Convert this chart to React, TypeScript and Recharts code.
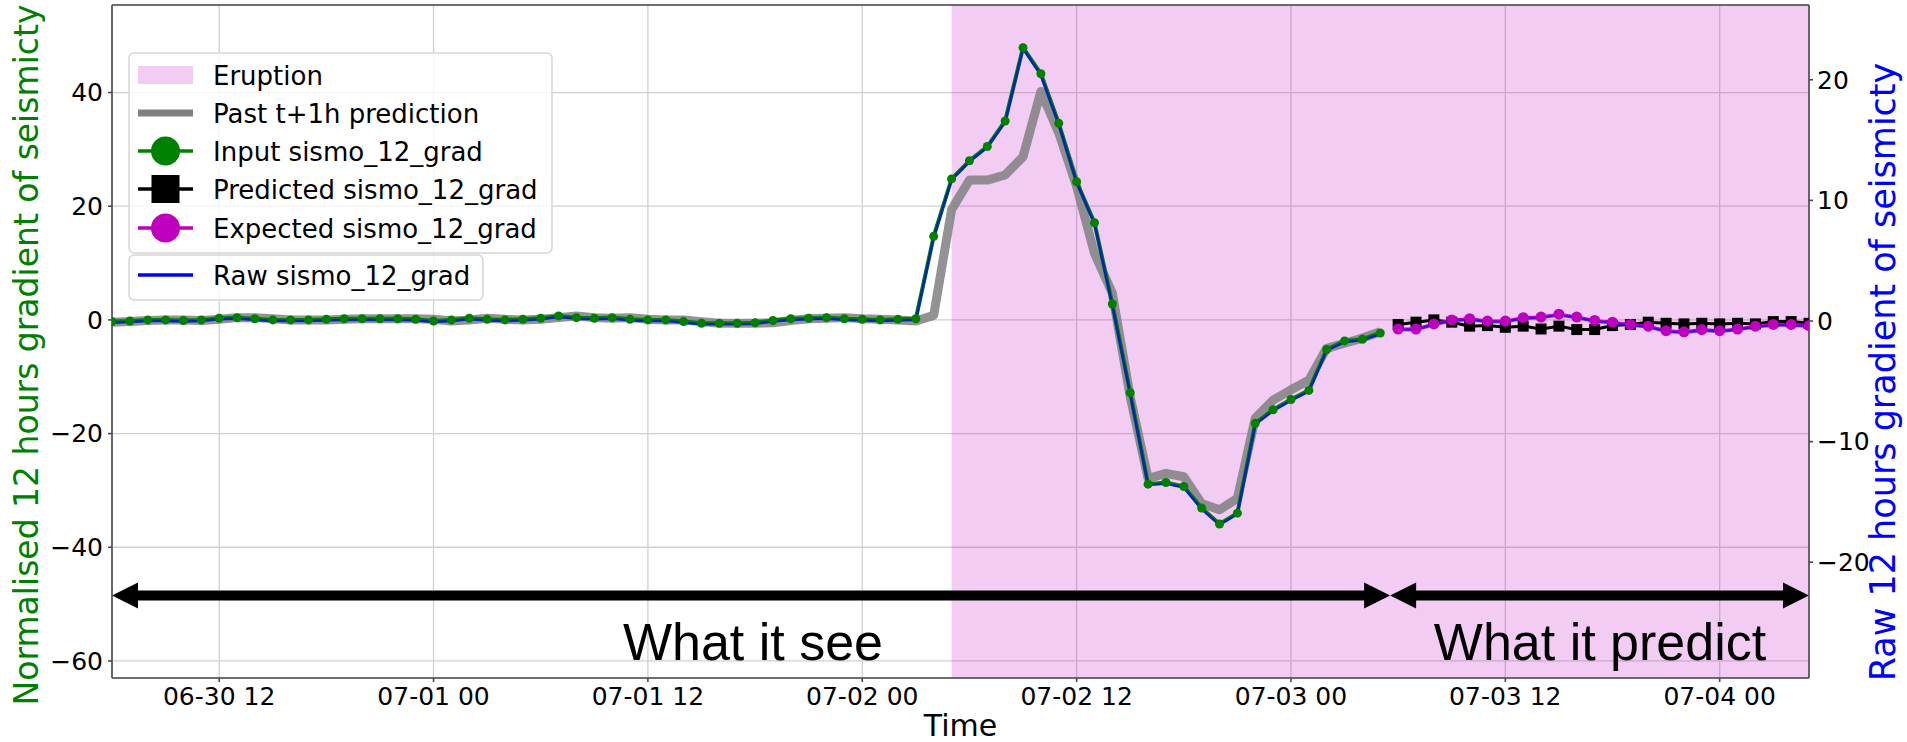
import {
  ComposedChart,
  Line,
  XAxis,
  YAxis,
  CartesianGrid,
  ReferenceArea,
  ReferenceLine,
} from "recharts";

/* ------------------------------------------------------------------ */
/*  Data (x = hours since 06-30 00:00, hourly samples)                  */
/* ------------------------------------------------------------------ */

const INPUT_START = 6; // 06-30 06:00
const PRED_START = 78; // 07-03 06:00
const ERUPTION_START = 53; // 07-02 05:00
const X_MIN = 6;
const X_MAX = 101;

const X_TICKS = [12, 24, 36, 48, 60, 72, 84, 96];
const X_TICK_LABELS = [
  "06-30 12",
  "07-01 00",
  "07-01 12",
  "07-02 00",
  "07-02 12",
  "07-03 00",
  "07-03 12",
  "07-04 00",
];

const LEFT_TICKS = [-60, -40, -20, 0, 20, 40];
const RIGHT_TICKS = [-20, -10, 0, 10, 20];
const LEFT_DOMAIN: [number, number] = [-63, 55.4];
const RIGHT_DOMAIN: [number, number] = [-29.6, 26.2];

// normalised input window (left axis)
const INPUT = [
  -0.3, -0.2, 0.0, 0.0, -0.1, 0.0,
  0.3, 0.4, 0.2, 0.0, 0.0, 0.0,
  0.1, 0.2, 0.2, 0.2, 0.2, 0.1,
  -0.2, 0.0, 0.3, 0.1, 0.0, 0.1,
  0.3, 0.7, 0.4, 0.3, 0.4, 0.1,
  0.0, 0.0, -0.3, -0.6, -0.6, -0.6,
  -0.5, -0.1, 0.2, 0.3, 0.4, 0.2,
  0.1, 0.0, 0.1, 0.2,
  14.7, 24.8, 28.0, 30.5, 35.0, 47.9, 43.3, 34.6, 24.3, 17.1, 2.8,
  -12.8, -28.9, -28.6, -29.3, -33.1, -35.9, -34.0, -18.2, -15.8, -14.0,
  -12.4, -5.2, -3.7, -3.4, -2.3,
];

// past t+1h predictions over the input window (left axis)
const PAST = [
  -0.4, -0.3, -0.1, 0.0, 0.0, -0.1,
  0.1, 0.4, 0.4, 0.2, 0.0, 0.0,
  0.0, 0.1, 0.2, 0.2, 0.2, 0.2,
  0.1, -0.2, 0.0, 0.3, 0.1, 0.0,
  0.1, 0.4, 0.7, 0.4, 0.3, 0.4,
  0.1, 0.0, 0.0, -0.3, -0.6, -0.6,
  -0.6, -0.5, -0.1, 0.2, 0.3, 0.4,
  0.2, 0.1, 0.0, -0.2,
  0.8, 19.4, 24.6, 24.6, 25.5, 28.7, 40.2, 32.9, 23.5, 11.7, 4.7,
  -13.5, -27.9, -27.0, -27.6, -32.3, -33.4, -31.4, -17.3, -14.1, -12.3,
  -10.6, -5.0, -4.1, -3.2, -2.1,
];

// raw gradient over the input window (right axis)
const RAW = [
  -0.14, -0.09, 0.0, 0.0, -0.05, 0.0,
  0.14, 0.19, 0.09, 0.0, 0.0, 0.0,
  0.05, 0.09, 0.09, 0.09, 0.09, 0.05,
  -0.09, 0.0, 0.14, 0.05, 0.0, 0.05,
  0.14, 0.33, 0.19, 0.14, 0.19, 0.05,
  0.0, 0.0, -0.14, -0.28, -0.28, -0.28,
  -0.24, -0.05, 0.09, 0.14, 0.19, 0.09,
  0.05, 0.0, 0.05, 0.09,
  6.93, 11.7, 13.2, 14.4, 16.5, 22.6, 20.4, 16.3, 11.5, 8.07, 1.32,
  -6.04, -13.6, -13.5, -13.8, -15.6, -16.9, -16.0, -8.58, -7.45, -6.6,
  -5.85, -2.45, -1.75, -1.6, -1.08,
];

// 24h forecast window (left axis)
const PREDICTED = [
  -0.8, -0.4, 0.0, -0.4, -1.1, -1.0, -1.3, -1.1, -1.6, -1.1, -1.7, -1.7,
  -1.0, -0.8, -0.4, -0.6, -0.7, -0.6, -0.7, -0.6, -0.7, -0.3, -0.3, -0.6,
];
const EXPECTED = [
  -1.6, -1.6, -0.7, 0.0, 0.2, -0.2, -0.2, 0.4, 0.5, 1.0, 0.5, -0.1,
  -0.4, -0.8, -1.1, -1.9, -2.1, -1.7, -1.9, -1.6, -1.1, -0.8, -0.8, -1.0,
];
// raw gradient over the forecast window (right axis)
const RAW_PRED = [
  -0.75, -0.75, -0.33, 0.0, 0.09, -0.09, -0.09, 0.19, 0.24, 0.47, 0.24, -0.05,
  -0.19, -0.38, -0.52, -0.9, -0.99, -0.8, -0.9, -0.75, -0.52, -0.38, -0.38, -0.47,
];

const ARROW_Y = -48.5;
const SPLIT_X = 77.55;

type Row = {
  t: number;
  input?: number;
  past?: number;
  raw?: number;
  pred?: number;
  expected?: number;
  rawPred?: number;
};

const rows: Row[] = [];
for (let t = X_MIN; t <= X_MAX; t++) {
  const row: Row = { t };
  const i = t - INPUT_START;
  if (i >= 0 && i < INPUT.length) {
    row.input = INPUT[i];
    row.past = PAST[i];
    row.raw = RAW[i];
  }
  const j = t - PRED_START;
  if (j >= 0 && j < PREDICTED.length) {
    row.pred = PREDICTED[j];
    row.expected = EXPECTED[j];
    row.rawPred = RAW_PRED[j];
  }
  rows.push(row);
}

/* ------------------------------------------------------------------ */
/*  Helpers                                                             */
/* ------------------------------------------------------------------ */

const FONT = "'DejaVu Sans', sans-serif";
const FRAME = "#4a4a4a";
const ERUPTION_FILL = "#bf00bf";

const minus = (v: number) => (v < 0 ? `\u2212${Math.abs(v)}` : `${v}`);
const timeLabel = (v: number) => X_TICK_LABELS[X_TICKS.indexOf(v)] ?? "";

const SquareDot = (props: any) => {
  const { cx, cy, index } = props;
  if (cx == null || cy == null || Number.isNaN(cy)) return <g key={index} />;
  return <rect key={index} x={cx - 5.5} y={cy - 5.5} width={11} height={11} fill="#000" />;
};

// thick double-headed arrow along a horizontal segment
const DoubleArrow = (props: any) => {
  const { x1, y1, x2 } = props;
  const hl = 26;
  const hw = 13;
  return (
    <g>
      <line x1={x1 + hl - 2} y1={y1} x2={x2 - hl + 2} y2={y1} stroke="#000" strokeWidth={10} />
      <polygon points={`${x1},${y1} ${x1 + hl},${y1 - hw} ${x1 + hl},${y1 + hw}`} fill="#000" />
      <polygon points={`${x2},${y1} ${x2 - hl},${y1 - hw} ${x2 - hl},${y1 + hw}`} fill="#000" />
    </g>
  );
};

/* ------------------------------------------------------------------ */
/*  Legend + annotations                                                */
/* ------------------------------------------------------------------ */

const LEGEND_ROWS = [
  "Eruption",
  "Past t+1h prediction",
  "Input sismo_12_grad",
  "Predicted sismo_12_grad",
  "Expected sismo_12_grad",
];

function Overlay() {
  const rowY = [75, 113, 151, 189, 228];
  const hx1 = 138;
  const hx2 = 193;
  const hc = (hx1 + hx2) / 2;
  return (
    <svg
      width={1907}
      height={742}
      style={{ position: "absolute", left: 0, top: 0, pointerEvents: "none", fontFamily: FONT }}
    >
      {/* legend box 1 */}
      <rect x={129} y={53} width={423} height={200} rx={5} fill="#fff" fillOpacity={0.8} stroke="#d6d6d6" strokeWidth={1.5} />
      <rect x={hx1} y={rowY[0] - 9} width={hx2 - hx1} height={18} fill={ERUPTION_FILL} fillOpacity={0.2} />
      <line x1={hx1} y1={rowY[1]} x2={hx2} y2={rowY[1]} stroke="#808080" strokeWidth={7} />
      <line x1={hx1} y1={rowY[2]} x2={hx2} y2={rowY[2]} stroke="#008000" strokeWidth={3.5} />
      <circle cx={hc} cy={rowY[2]} r={14.5} fill="#008000" />
      <line x1={hx1} y1={rowY[3]} x2={hx2} y2={rowY[3]} stroke="#000" strokeWidth={3.5} />
      <rect x={hc - 14} y={rowY[3] - 14} width={28} height={28} fill="#000" />
      <line x1={hx1} y1={rowY[4]} x2={hx2} y2={rowY[4]} stroke={ERUPTION_FILL} strokeWidth={3.5} />
      <circle cx={hc} cy={rowY[4]} r={14.5} fill={ERUPTION_FILL} />
      {LEGEND_ROWS.map((label, i) => (
        <text key={label} x={213} y={rowY[i] + 9.5} fontSize={26} fill="#000">
          {label}
        </text>
      ))}

      {/* legend box 2 */}
      <rect x={129} y={255} width={354} height={45} rx={5} fill="#fff" fillOpacity={0.8} stroke="#d6d6d6" strokeWidth={1.5} />
      <line x1={hx1} y1={275} x2={hx2} y2={275} stroke="#0000ff" strokeWidth={3.5} />
      <text x={213} y={284.5} fontSize={26} fill="#000">
        Raw sismo_12_grad
      </text>

      {/* axis titles */}
      <text
        x={38}
        y={355}
        transform="rotate(-90 38 355)"
        textAnchor="middle"
        fontSize={33}
        fill="#008000"
      >
        Normalised 12 hours gradient of seismicty
      </text>
      <text
        x={1895}
        y={372}
        transform="rotate(-90 1895 372)"
        textAnchor="middle"
        fontSize={35}
        fill="#0000ff"
      >
        Raw 12 hours gradient of seismicty
      </text>

      {/* window annotations */}
      <text x={753} y={660} textAnchor="middle" fontSize={52} fontFamily="'Liberation Sans', Arial, sans-serif" fill="#000">
        What it see
      </text>
      <text x={1600} y={660} textAnchor="middle" fontSize={52} fontFamily="'Liberation Sans', Arial, sans-serif" fill="#000">
        What it predict
      </text>
    </svg>
  );
}

/* ------------------------------------------------------------------ */
/*  Chart                                                               */
/* ------------------------------------------------------------------ */

export default function App() {
  return (
    <div style={{ position: "absolute", left: 0, top: 0, width: 1907, height: 742, background: "#fff", overflow: "hidden" }}>
      <ComposedChart
        width={1907}
        height={742}
        data={rows}
        margin={{ top: 5, right: 0, bottom: 0, left: 0 }}
        style={{ fontFamily: FONT }}
      >
        <CartesianGrid yAxisId="left" stroke="#d0d0d0" strokeWidth={1.3} />
        <ReferenceArea
          yAxisId="left"
          x1={ERUPTION_START}
          x2={X_MAX}
          fill={ERUPTION_FILL}
          fillOpacity={0.2}
          stroke="none"
          ifOverflow="visible"
        />
        <XAxis
          dataKey="t"
          type="number"
          domain={[X_MIN, X_MAX]}
          ticks={X_TICKS}
          interval={0}
          allowDataOverflow
          tickFormatter={timeLabel}
          height={64}
          tickSize={4}
          tickMargin={5}
          stroke={FRAME}
          strokeWidth={1.6}
          tick={{ fontSize: 25, fill: "#000" }}
          label={{ value: "Time", position: "insideBottom", offset: 6, fontSize: 30, fill: "#000" }}
        />
        <YAxis
          yAxisId="left"
          orientation="left"
          type="number"
          domain={LEFT_DOMAIN}
          ticks={LEFT_TICKS}
          interval={0}
          allowDataOverflow
          width={112}
          tickFormatter={minus}
          tickSize={4}
          tickMargin={5}
          stroke={FRAME}
          strokeWidth={1.6}
          tick={{ fontSize: 25, fill: "#000" }}
        />
        <YAxis
          yAxisId="right"
          orientation="right"
          type="number"
          domain={RIGHT_DOMAIN}
          ticks={RIGHT_TICKS}
          interval={0}
          allowDataOverflow
          width={98}
          tickFormatter={minus}
          tickSize={4}
          tickMargin={4}
          stroke={FRAME}
          strokeWidth={1.6}
          tick={{ fontSize: 25, fill: "#000" }}
        />
        <ReferenceLine yAxisId="left" y={LEFT_DOMAIN[1]} stroke={FRAME} strokeWidth={1.6} ifOverflow="visible" />

        <Line
          yAxisId="left"
          dataKey="past"
          stroke="#808080"
          strokeOpacity={0.85}
          strokeWidth={9}
          strokeLinejoin="round"
          dot={false}
          isAnimationActive={false}
        />
        <Line
          yAxisId="left"
          dataKey="input"
          stroke="#008000"
          strokeWidth={4}
          dot={{ r: 4.5, fill: "#008000", stroke: "none" }}
          isAnimationActive={false}
        />
        <Line
          yAxisId="left"
          dataKey="pred"
          stroke="#000"
          strokeWidth={3}
          dot={SquareDot}
          isAnimationActive={false}
        />
        <Line
          yAxisId="left"
          dataKey="expected"
          stroke={ERUPTION_FILL}
          strokeWidth={3}
          dot={{ r: 5.5, fill: ERUPTION_FILL, stroke: "none" }}
          isAnimationActive={false}
        />
        <Line
          yAxisId="right"
          dataKey="raw"
          stroke="#0000ff"
          strokeOpacity={0.7}
          strokeWidth={2.5}
          dot={false}
          isAnimationActive={false}
        />
        <Line
          yAxisId="right"
          dataKey="rawPred"
          stroke="#0000ff"
          strokeOpacity={0.7}
          strokeWidth={2.5}
          dot={false}
          isAnimationActive={false}
        />

        <ReferenceLine
          yAxisId="left"
          segment={[
            { x: X_MIN, y: ARROW_Y },
            { x: SPLIT_X, y: ARROW_Y },
          ]}
          shape={DoubleArrow}
          ifOverflow="visible"
        />
        <ReferenceLine
          yAxisId="left"
          segment={[
            { x: SPLIT_X, y: ARROW_Y },
            { x: X_MAX, y: ARROW_Y },
          ]}
          shape={DoubleArrow}
          ifOverflow="visible"
        />
      </ComposedChart>
      <Overlay />
    </div>
  );
}
